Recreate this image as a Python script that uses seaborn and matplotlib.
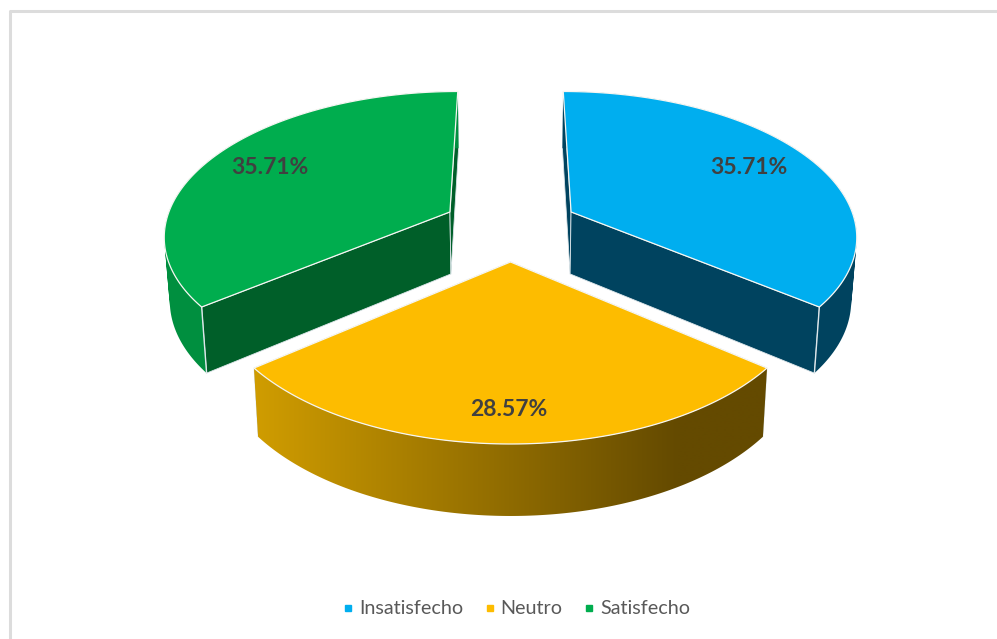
import numpy as np
import matplotlib
matplotlib.use("Agg")
import matplotlib.pyplot as plt
from matplotlib.colors import to_rgb
from matplotlib.lines import Line2D
from matplotlib.patches import PathPatch, Polygon
from matplotlib.path import Path
import seaborn as sns

# Survey results
categories = ["Insatisfecho", "Neutro", "Satisfecho"]
percentages = [35.71, 28.57, 35.71]

top_colors = ["#00AEEF", "#FDBC00", "#00AD4E"]
cut_colors = ["#00435F", "#644A00", "#005F29"]
wall_colors = ["#00435F", "#644A00", "#008F3F"]
gradient_left = "#CF9C00"

sns.set_theme(style="white")
plt.rcParams["font.family"] = ["Lato", "DejaVu Sans"]

# Perspective camera for the exploded pie, in canvas pixels
X0, HORIZON = 510.5, -721.0
FOCAL_X, FOCAL_Y = 1895.0, 6291.0
EXPLODE = 0.2392
CAMERA = 6.4 + EXPLODE
NARROW = 0.984


def project(x, y, lower=False):
    w = CAMERA + y
    sx = FOCAL_X * x / w
    sy = HORIZON + FOCAL_Y / w
    if lower:
        sx = sx * NARROW
        sy = sy + 21.8 + 271.0 / w
    return np.column_stack([X0 + sx, sy])


def wall_path(upper, lower):
    """One compound path of equally wound quads, filled without seams."""
    rings = []
    for k in range(len(upper) - 1):
        quad = np.vstack([upper[k], upper[k + 1], lower[k + 1], lower[k]])
        x, y = quad[:, 0], quad[:, 1]
        area = np.dot(x, np.roll(y, -1)) - np.dot(y, np.roll(x, -1))
        rings.append(quad if area > 0 else quad[::-1])
    return Path.make_compound_path(*[Path(np.vstack([q, q[0]]), closed=True) for q in rings])


fig = plt.figure(figsize=(9.97, 6.39), dpi=100)
ax = fig.add_axes([0, 0, 1, 1])
ax.axis("off")

# Chart-area border: only the top and left edges fall inside the canvas
ax.plot([10, 10, 1010], [650, 11, 11], color="#DCDCDC", lw=2.2, zorder=0)

edges = np.cumsum([0] + percentages) / sum(percentages) * 2 * np.pi
for z, i in enumerate([0, 2, 1]):
    t0, t1 = edges[i], edges[i + 1]
    mid = (t0 + t1) / 2
    ox, oy = EXPLODE * np.sin(mid), EXPLODE * np.cos(mid)
    t = np.linspace(t0, t1, 200)
    rim_x, rim_y = ox + np.sin(t), oy + np.cos(t)
    apex_top = project(np.array([ox]), np.array([oy]))
    apex_low = project(np.array([ox]), np.array([oy]), True)
    rim_top = project(rim_x, rim_y)
    rim_low = project(rim_x, rim_y, True)
    base = 10 * z + 1

    # Radial cut faces
    for k in (0, -1):
        face = np.vstack([apex_top, rim_top[k], rim_low[k], apex_low])
        ax.add_patch(Polygon(face, closed=True, fc=cut_colors[i], ec="#DDE6EA",
                             lw=0.6, joinstyle="round", zorder=base))

    # Curved outer wall; the front slice fades from gold to brown
    if i == 1:
        wall = np.vstack([rim_top, rim_low[::-1]])
        patch = Polygon(wall, closed=True, fc="none", ec="none", zorder=base + 1)
        ax.add_patch(patch)
        xmin, xmax = wall[:, 0].min(), wall[:, 0].max()
        ymin, ymax = wall[:, 1].min(), wall[:, 1].max()
        xs = np.linspace(xmin, xmax, 512)
        f = np.clip((xs - 258) / 420, 0, 1)[None, :, None]
        left, right = np.array(to_rgb(gradient_left)), np.array(to_rgb(wall_colors[1]))
        shade = left[None, None, :] + (right - left)[None, None, :] * f
        img = ax.imshow(shade, extent=(xmin, xmax, ymax, ymin), aspect="auto",
                        interpolation="bilinear", zorder=base + 1)
        img.set_clip_path(patch)
    else:
        ax.add_patch(PathPatch(wall_path(rim_top, rim_low), fc=wall_colors[i],
                               ec="none", zorder=base + 1))
        k = -1 if i == 0 else 0
        ax.plot([rim_top[k, 0], rim_low[k, 0]], [rim_top[k, 1], rim_low[k, 1]],
                color="#DDE6EA", lw=1.0, zorder=base + 1.5)

    # Top face
    top = np.vstack([apex_top, rim_top])
    ax.add_patch(Polygon(top, closed=True, fc=top_colors[i], ec="#F6F6F2",
                         lw=0.9, joinstyle="round", zorder=base + 2))

ax.set_xlim(0, 997)
ax.set_ylim(639, 0)

# Percentage labels on the top faces
label_xy = [(749, 167), (509, 409), (270, 167)]
for (lx, ly), value in zip(label_xy, percentages):
    ax.text(lx, ly, f"{value:.2f}%", ha="center", va="center", fontsize=16.5,
            fontweight="bold", color="#404040", zorder=50)

handles = [Line2D([], [], ls="none", marker="s", ms=4.6, color=c) for c in top_colors]
ax.legend(handles, categories, loc="center", bbox_to_anchor=(514, 609),
          bbox_transform=ax.transData, ncol=3, frameon=False, fontsize=14.2,
          labelcolor="#595959", handletextpad=0.05, columnspacing=0.85,
          handlelength=1.0, borderpad=0, borderaxespad=0)

fig.savefig("out.png", dpi=100, facecolor="white")
